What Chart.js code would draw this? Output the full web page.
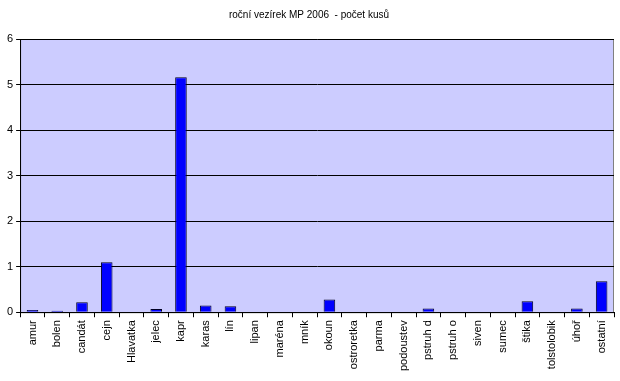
<!DOCTYPE html>
<html>
<head>
<meta charset="utf-8">
<script src="https://cdn.jsdelivr.net/npm/chart.js@4/dist/chart.umd.min.js"></script>
<style>
  html, body { margin: 0; padding: 0; background: #fff; }
  #wrap { width: 620px; height: 381px; }
</style>
</head>
<body>
<div id="wrap"><canvas id="fishChart" width="620" height="381"></canvas></div>
<script>
const categories = ['amur', 'bolen', 'candát', 'cejn', 'Hlavatka', 'jelec', 'kapr', 'karas', 'lín', 'lipan',
  'maréna', 'mník', 'okoun', 'ostroretka', 'parma', 'podoustev', 'pstruh d', 'pstruh o', 'siven', 'sumec',
  'štika', 'tolstolobik', 'úhoř', 'ostatní'];
const counts = [0.05, 0.03, 0.22, 1.1, 0, 0.07, 5.16, 0.15, 0.13, 0,
  0, 0, 0.28, 0.01, 0.01, 0.01, 0.08, 0.01, 0, 0.01,
  0.24, 0, 0.08, 0.68];
const yTicks = [0, 1, 2, 3, 4, 5, 6];

// paint the lavender plot area + grey frame
const plotBg = {
    id: 'plotBg',
    beforeDraw(chart) {
        const a = chart.chartArea;
        const ctx = chart.ctx;
        ctx.save();
        ctx.fillStyle = '#ccccff';
        ctx.fillRect(a.left, a.top, a.right - a.left, a.bottom - a.top);
        ctx.strokeStyle = '#808080';
        ctx.lineWidth = 1;
        ctx.strokeRect(a.left + 0.5, a.top + 0.5, a.right - a.left - 1, a.bottom - a.top);
        ctx.restore();
    }
};

Chart.defaults.font.family = '"Liberation Sans", Arial, sans-serif';
Chart.defaults.color = '#000';

new Chart(document.getElementById('fishChart').getContext('2d'), {
    type: 'bar',
    data: {
        labels: categories,
        datasets: [{
            label: 'počet kusů',
            data: counts,
            backgroundColor: '#0000ff',
            borderColor: '#000022',
            borderWidth: 1,
            categoryPercentage: 0.9,
            barPercentage: 0.52
        }]
    },
    options: {
        responsive: false,
        animation: false,
        layout: { padding: { left: 4, right: 6, top: 4, bottom: 7 } },
        plugins: {
            legend: { display: false },
            tooltip: { enabled: false },
            title: {
                display: true,
                text: 'roční vezírek MP 2006  - počet kusů',
                font: { size: 10, weight: 'normal' },
                color: '#000',
                padding: { top: 5, bottom: 18 }
            }
        },
        scales: {
            x: {
                offset: true,
                grid: {
                    offset: true,
                    drawOnChartArea: false,
                    drawTicks: true,
                    tickLength: 5,
                    color: '#000'
                },
                border: { color: '#000' },
                ticks: {
                    autoSkip: false,
                    maxRotation: 90,
                    minRotation: 90,
                    font: { size: 11 },
                    padding: 3
                }
            },
            y: {
                min: 0,
                max: 6,
                afterBuildTicks(axis) { axis.ticks = yTicks.map(v => ({ value: v })); },
                grid: {
                    color: '#000',
                    drawTicks: true,
                    tickLength: 4
                },
                border: { color: '#000' },
                ticks: { font: { size: 11 }, padding: 3 }
            }
        }
    },
    plugins: [plotBg]
});
</script>
</body>
</html>
